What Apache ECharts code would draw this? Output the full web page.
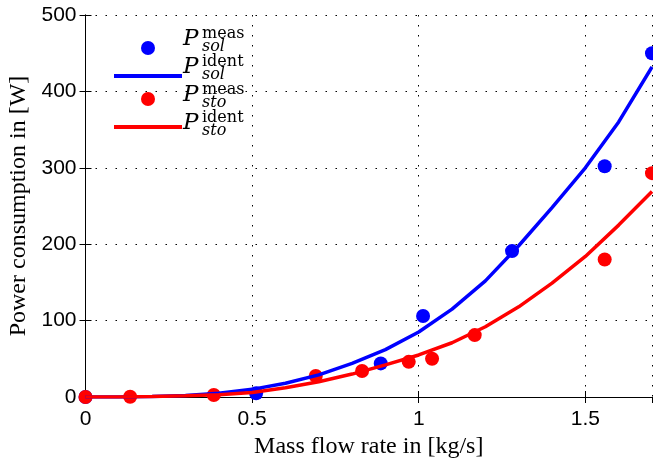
<!DOCTYPE html>
<html>
<head>
<meta charset="utf-8">
<script src="https://cdn.jsdelivr.net/npm/echarts@6/dist/echarts.min.js"></script>
<style>
  html, body { margin: 0; padding: 0; background: #fff; }
  #chart { width: 653px; height: 458px; }
</style>
</head>
<body>
<div id="chart"></div>
<script>
// measured points [mass flow, power]
const solMeas = [[0, 0], [0.512, 5], [0.886, 44], [1.013, 106], [1.28, 191], [1.558, 302], [1.7, 450]];
const stoMeas = [[0, 0], [0.134, 0.4], [0.385, 2.6], [0.691, 27.5], [0.83, 34], [0.97, 46], [1.04, 50], [1.168, 81], [1.558, 180], [1.7, 293]];

// identified model curves
const identFlow = [0, 0.1, 0.2, 0.3, 0.4, 0.5, 0.6, 0.7, 0.8, 0.9, 1.0, 1.1, 1.2, 1.3, 1.4, 1.5, 1.6, 1.7];
const solIdent = [0, 0.1, 0.7, 2, 5, 10, 18, 29, 44, 62, 85, 115, 152, 198, 248, 300, 360, 432];
const stoIdent = [0, 0.1, 0.5, 1.5, 3, 6, 12, 20, 30, 42, 55, 71, 92, 118, 149, 184, 225, 269];

const xTicks = ['0', '0.5', '1', '1.5'];
const yTicks = ['0', '100', '200', '300', '400', '500'];

const seriesNames = ['P sol meas', 'P sol ident', 'P sto meas', 'P sto ident'];
const legendSup = ['meas', 'ident', 'meas', 'ident'];
const legendSub = ['sol', 'sol', 'sto', 'sto'];

const chart = echarts.init(document.getElementById('chart'));

const dotted = { color: '#000', width: 1, type: [1.5, 8.5] };
const tickFont = { fontFamily: 'Liberation Sans', fontSize: 21, color: '#000' };
const titleFont = { fontFamily: 'Liberation Serif', fontSize: 24, color: '#000' };
const lineIcon = 'path://M0,0 L68,0 L68,4 L0,4 Z';

// legend texts (P with super/subscript)
const legendTop = 43, legendStep = 28;
const legendText = [];
legendSup.forEach((sup, i) => {
  const c = legendTop + i * legendStep;
  legendText.push(
    { type: 'text', left: 183, top: c - 15.5, style: { text: 'P', font: 'italic 23px "DejaVu Serif"', fill: '#000' } },
    { type: 'text', left: 202, top: c - 17.5, style: { text: sup, font: '16px "DejaVu Serif"', fill: '#000' } },
    { type: 'text', left: 202, top: c - 4, style: { text: legendSub[i], font: 'italic 16px "DejaVu Serif"', fill: '#000' } }
  );
});

chart.setOption({
  animation: false,
  grid: { left: 85.5, right: 1, top: 15, bottom: 61, containLabel: false, outerBoundsMode: 'none' },
  legend: {
    orient: 'vertical',
    left: 109,
    top: legendTop - 7,
    itemWidth: 68,
    itemHeight: 14,
    itemGap: legendStep - 14,
    formatter: () => '',
    textStyle: { fontSize: 10 },
    data: [
      { name: seriesNames[0], icon: 'circle', itemStyle: { opacity: 1 } },
      { name: seriesNames[1], icon: lineIcon },
      { name: seriesNames[2], icon: 'circle', itemStyle: { opacity: 1 } },
      { name: seriesNames[3], icon: lineIcon }
    ]
  },
  graphic: legendText,
  xAxis: [{
    type: 'value', min: 0, max: 1.7, interval: 0.5,
    name: 'Mass flow rate in [kg/s]', nameLocation: 'middle', nameGap: 35,
    nameTextStyle: titleFont,
    axisLine: { lineStyle: { color: '#000', width: 1 } },
    axisTick: { inside: true, length: 6, lineStyle: { color: '#000' } },
    axisLabel: { ...tickFont, margin: 12, showMaxLabel: false,
      formatter: v => xTicks.includes(String(v)) ? String(v) : '' },
    splitLine: { show: true, lineStyle: dotted }
  }, {
    type: 'value', min: 0, max: 1.7, interval: 0.5, position: 'top',
    axisLine: { show: true, lineStyle: { color: '#000', width: 1 } },
    axisTick: { inside: true, length: 6, lineStyle: { color: '#000' } },
    axisLabel: { show: false }, splitLine: { show: false }
  }],
  yAxis: [{
    type: 'value', min: 0, max: 500, interval: 100,
    name: 'Power consumption in [W]', nameLocation: 'middle', nameGap: 55,
    nameTextStyle: titleFont,
    axisLine: { show: true, lineStyle: { color: '#000', width: 1 } },
    axisTick: { show: true, inside: true, length: 6, lineStyle: { color: '#000' } },
    axisLabel: { ...tickFont, margin: 9,
      formatter: v => yTicks.includes(String(v)) ? String(v) : '' },
    splitLine: { show: true, lineStyle: dotted }
  }, {
    type: 'value', min: 0, max: 500, interval: 100, position: 'right',
    axisLine: { show: true, lineStyle: { color: '#000', width: 1 } },
    axisTick: { show: true, inside: true, length: 6, lineStyle: { color: '#000' } },
    axisLabel: { show: false }, splitLine: { show: false }
  }],
  series: [
    {
      name: seriesNames[0], type: 'scatter', data: solMeas,
      symbol: 'circle', symbolSize: 14, itemStyle: { color: '#0000ff', opacity: 1 }, clip: false
    },
    {
      name: seriesNames[1], type: 'line', symbol: 'none',
      data: identFlow.map((x, i) => [x, solIdent[i]]),
      lineStyle: { color: '#0000ff', width: 3.5 }, itemStyle: { color: '#0000ff' }
    },
    {
      name: seriesNames[2], type: 'scatter', data: stoMeas,
      symbol: 'circle', symbolSize: 14, itemStyle: { color: '#ff0000', opacity: 1 }, clip: false
    },
    {
      name: seriesNames[3], type: 'line', symbol: 'none',
      data: identFlow.map((x, i) => [x, stoIdent[i]]),
      lineStyle: { color: '#ff0000', width: 3.5 }, itemStyle: { color: '#ff0000' }
    }
  ]
});
</script>
</body>
</html>
